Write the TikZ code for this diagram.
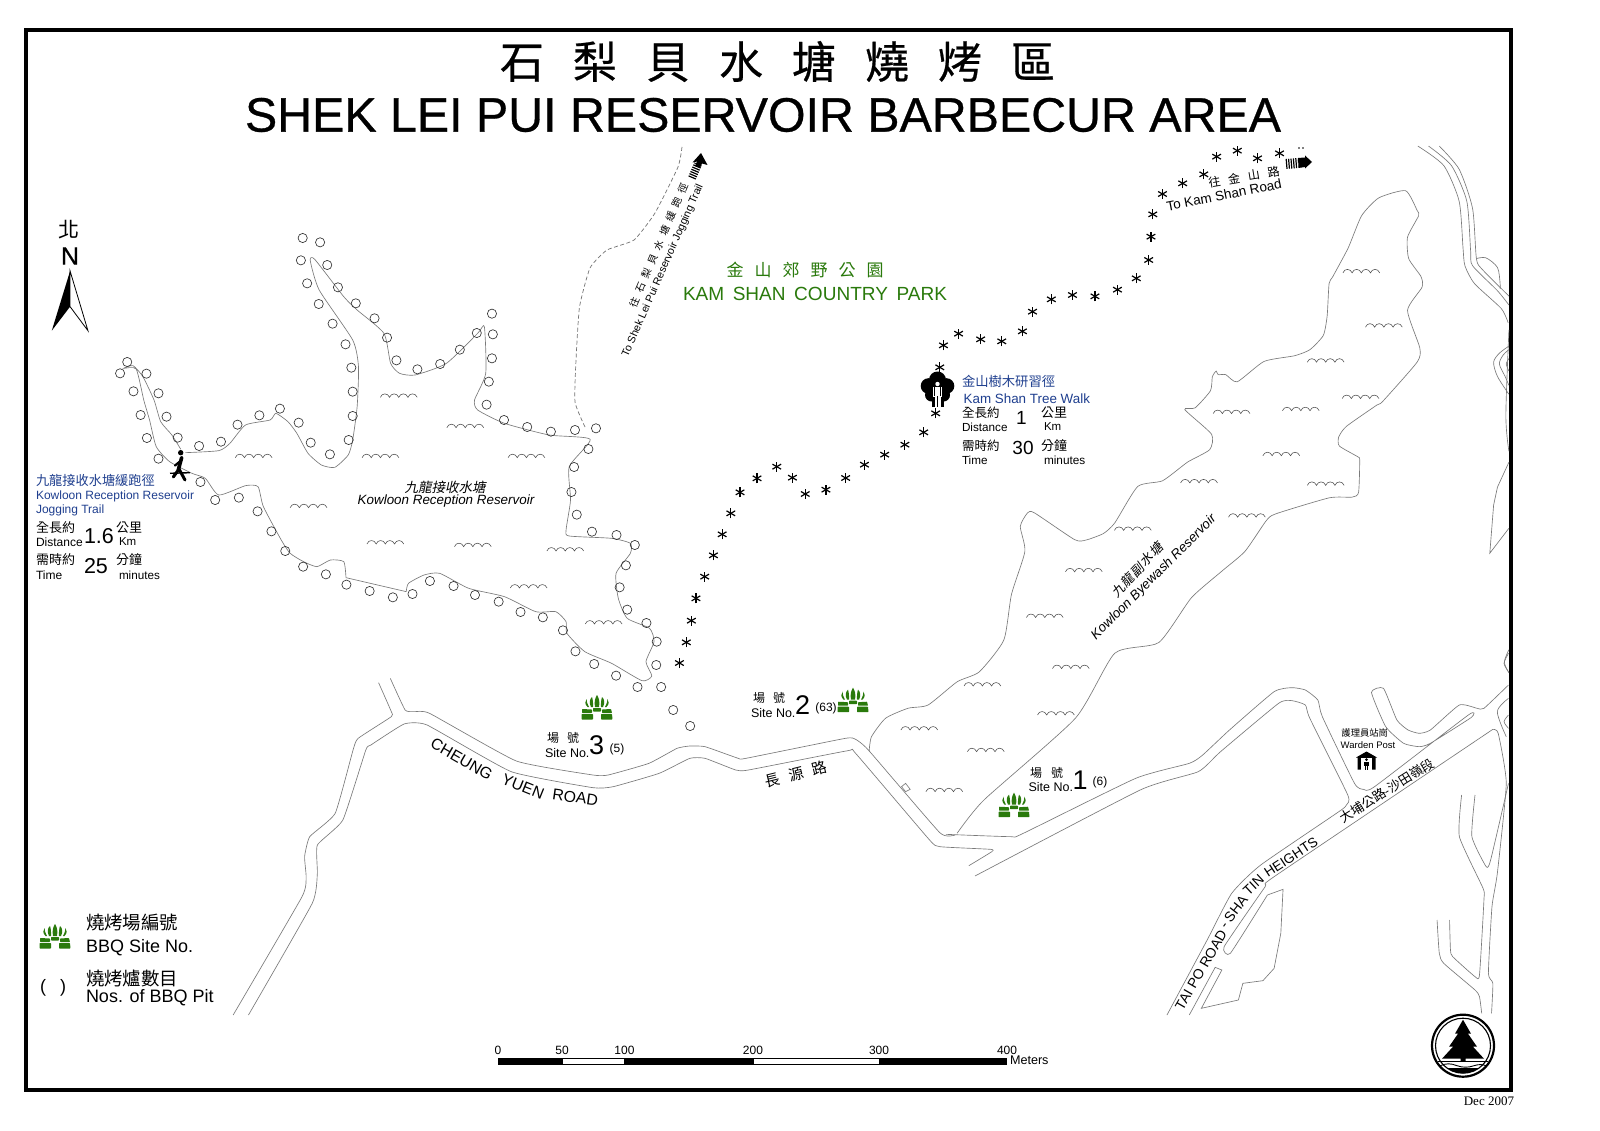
\documentclass[tikz,border=0pt]{standalone}
\usepackage{fontspec}
\usepackage{graphicx}
\setmainfont{Liberation Sans}
\newfontfamily\mainb[FakeBold=0.6]{Liberation Sans}
\newfontfamily\cjk{Noto Sans CJK TC}
\newfontfamily\cjkb[FakeBold=0.5]{Noto Sans CJK TC}
\newfontfamily\cjki[FakeSlant=0.2]{Noto Sans CJK TC}
\newfontfamily\serifdate{Liberation Serif}
\definecolor{parkgreen}{HTML}{2A7A0C}
\definecolor{trailblue}{HTML}{1F3F8F}
\definecolor{roadgray}{HTML}{7A7A7A}
\newcommand\fs[1]{\fontsize{#1}{#1}\selectfont}
\newcounter{lb}
\tikzset{
 lab/.style={inner sep=0pt,outer sep=0pt},
 rd/.style={draw=roadgray,line width=0.65pt},
 wave/.style={draw=black!70,line width=0.55pt},
 pit/.style={draw=black!80,line width=0.65pt},
 astk/.style={draw=black,line width=1.2pt},
 z1/.style={shift={(0,200)},x=.44643pt,y=-.33333pt},
 z2/.style={shift={(600,130)},x=.45918pt,y=-.33333pt},
 z3/.style={shift={(1000,130)},x=.38265pt,y=-.35714pt},
 z4/.style={shift={(200,640)},x=.5102pt,y=-.33333pt},
 z5/.style={shift={(850,640)},x=.44643pt,y=-.33333pt},
}
\newcommand\T[4][]{\stepcounter{lb}\node[lab,#1] (lb\thelb) at (#2,#3) {#4};}
\newcommand\wv[2]{\draw[wave] (#1,#2) .. controls +(1.5,-4.6) and +(-1.7,-4.6) .. ++(9.2,0) .. controls +(1.5,-4.6) and +(-1.7,-4.6) .. ++(9.2,0) .. controls +(1.5,-4.6) and +(-1.7,-4.6) .. ++(9.2,0) .. controls +(1.5,-4.6) and +(-1.7,-4.6) .. ++(9.2,0);}
\newcommand\AST[2]{\foreach \t in {90,30,-30}{\draw[astk] (#1,#2) ++(\t:5) -- ++(\t+180:10);}}
\newcommand\bbq[2]{\begin{scope}[shift={(#1,#2)}]
 \fill[parkgreen] (-9.5,-1) .. controls (-12.5,-4) and (-12,-7) .. (-10.5,-9) .. controls (-10.5,-6) and (-9.5,-4) .. (-8,-1) -- cycle;
 \fill[parkgreen] (9.5,-1) .. controls (12.5,-4) and (12,-7) .. (10.5,-9) .. controls (10.5,-6) and (9.5,-4) .. (8,-1) -- cycle;
 \fill[parkgreen] (-6,-1) .. controls (-8,-5) and (-7.5,-9) .. (-5,-11) .. controls (-4,-8) and (-3.8,-4) .. (-4,-1) -- cycle;
 \fill[parkgreen] (6,-1) .. controls (8,-5) and (7.5,-9) .. (5,-11) .. controls (4,-8) and (3.8,-4) .. (4,-1) -- cycle;
 \fill[parkgreen] (-2,-1) .. controls (-3,-6) and (-2,-10) .. (0,-13) .. controls (2,-10) and (3,-6) .. (2,-1) -- cycle;
 \fill[parkgreen,rounded corners=.6pt] (-15,1) -- (-5,1.5) -- (-5,5) -- (-15,5) -- cycle;
 \fill[parkgreen,rounded corners=.6pt] (-4,0) -- (4,0) -- (4,3.5) -- (-4,3.5) -- cycle;
 \fill[parkgreen,rounded corners=.6pt] (5,1.5) -- (14,1) -- (15,5) -- (5,5) -- cycle;
 \fill[parkgreen,rounded corners=.6pt] (-15.5,6) -- (-4,6) -- (-4,11.5) -- (-15.5,11.5) -- cycle;
 \fill[parkgreen,rounded corners=.6pt] (4,6) -- (15,6) -- (15.5,11.5) -- (4,11.5) -- cycle;
\end{scope}}
\begin{document}
\begin{tikzpicture}[x=1pt,y=-1pt]
\useasboundingbox (0,0) rectangle (1600,1131);
\fill[white] (0,0) rectangle (1600,1131);
% frame
\draw[line width=3.6pt,line join=miter] (26,30) rectangle (1511,1090);
% titles
\T{777.5}{61.5}{\cjkb\fs{44}石\hspace{29pt}梨\hspace{29pt}貝\hspace{29pt}水\hspace{29pt}塘\hspace{29pt}燒\hspace{29pt}烤\hspace{29pt}區}
\T{763}{115}{\resizebox{1036pt}{!}{\mainb\fs{49}SHEK LEI PUI RESERVOIR BARBECUR AREA}}
% ---- Kowloon Reception Reservoir
\begin{scope}[z1]
\draw[rd] plot[smooth,tension=.35] coordinates {(405,748) (385,705) (360,665) (345,600) (320,530) (298,497) (277,505) (305,507) (322,600) (335,660) (350,740) (380,785) (430,820) (460,835) (490,885) (550,857) (578,860) (590,920) (630,1020) (650,1060) (680,1085) (710,1100) (740,1080) (770,1085) (775,1133)};
\draw[rd] (775,1133) -- (910,1175);
\draw[rd] plot[smooth,tension=.35] coordinates {(910,1175) (915,1150) (950,1125) (985,1120) (1050,1165) (1130,1190) (1200,1235) (1245,1235) (1268,1265) (1270,1300) (1310,1355) (1370,1390) (1438,1442) (1460,1428) (1447,1385) (1465,1325) (1455,1285) (1405,1255) (1385,1195) (1380,1120) (1412,1060) (1412,1030) (1370,1015) (1275,1008) (1268,990) (1278,900) (1275,800) (1322,718) (1230,705) (1130,670) (1070,630) (1063,600) (1088,520) (1085,380) (1070,400) (1000,490) (930,525) (895,520) (875,490) (860,400) (800,330) (770,290) (705,178) (695,182) (715,270) (790,420) (803,500) (800,620) (790,720) (780,765) (750,802) (720,795) (690,760) (665,700) (645,665) (618,640) (605,660) (550,675) (515,730) (490,752) (415,758)};
\foreach \a/\b in {678/114,717/127,674/181,733/195,688/250,757/262,714/312,797/310,745/371,839/355,774/433,867/413,787/503,888/481,790/575,935/508,790/648,986/492,781/720,1030/449,739/763,1068/399,696/728,1102/341,669/668,1104/403,627/626,1102/475,581/646,1095/545,532/674,1090/614,495/725,1129/660,446/738,1181/681,1234/695,1288/690,1335/685,1318/747,1286/801,1280/876,1292/944,1326/995,1381/1005,1422/1035,1402/1096,1388/1162,1405/1229,1448/1269,1471/1325,1470/1395,1481/1461,1428/1461,1380/1427,1331/1392,1289/1354,1261/1291,1216/1252,1166/1236,1117/1205,1064/1185,1016/1158,963/1143,924/1182,880/1192,828/1173,776/1154,730/1123,679/1100,639/1053,608/994,577/934,535/893,482/900,449/846,355/776,398/713,329/714,373/650,315/645,355/580,299/574,328/521,269/520,285/486,1508/1530,1546/1578}
 {\draw[pit] (\a,\b) circle[x radius=10.3,y radius=13.8];}
\end{scope}
\foreach \a/\b in {852/592,1001/683,527/773,811/773,1138/773,650/923,822/1032,1018/1040,1225/1053,1143/1164,1311/1272}
 {\wv{\a/2.24}{200+\b/3}}
\foreach \a/\b in {896/400,955/552,803/650,894/752,738/786,557/794,687/912,803/995,472/988,597/1084,299/1121,171/1237,69/1365,137/1508}
 {\wv{1000+\a/2.613}{130+\b/2.8}}
\foreach \a/\b in {114/270,263/335,170/455}
 {\wv{850+\a/2.24}{640+\b/3}}
\wv{1037.5}{715}\wv{964}{686}
% dashed trail
\draw[draw=black!55,line width=.7pt,dash pattern=on 4pt off 2.5pt] plot[smooth,tension=.3] coordinates {(585,427) (575,402) (576,360) (579.5,307) (590,268) (607,250) (634,240) (655,213) (678,167) (682,147)};
% ---- Byewash
\begin{scope}[z3]
\draw[rd] plot[smooth,tension=.35] coordinates {(-342,1740) (-336,1699) (-299,1647) (-240,1619) (-188,1610) (-112,1545) (-54,1517) (10,1428) (30,1300) (65,1180) (53,1110) (72,1072) (90,1072) (195,1147) (225,1148) (270,1130) (300,1100) (360,998) (425,982) (490,930) (548,895) (553,852) (483,783) (510,778) (550,730) (555,690) (565,675) (570,685) (590,685) (620,705) (690,648) (770,632) (810,615) (845,575) (855,520) (860,430) (870,410) (910,330) (945,240) (990,190) (1060,170) (1090,225) (1094,240) (1065,300) (1068,360) (1100,410) (1103,440) (1065,505) (1097,610) (1090,650) (1000,760) (985,770) (905,830) (885,860) (887,885) (935,915) (940,925) (937,1015) (920,1028) (860,1030) (720,1075) (695,1095) (640,1180) (580,1235) (500,1310) (415,1435) (300,1465) (197,1647) (-42,1876) (-112,1969)};
% top-right roads
\draw[rd] plot[smooth,tension=.4] coordinates {(1092,45) (1160,100) (1200,200) (1210,330) (1215,380) (1240,430) (1310,500) (1328,540)};
\draw[rd] plot[smooth,tension=.4] coordinates {(1120,45) (1180,100) (1220,200) (1230,340) (1235,380) (1300,450) (1330,490)};
\draw[rd] plot[smooth,tension=.4] coordinates {(1148,45) (1200,110) (1235,220) (1245,360) (1260,390) (1330,465)};
\draw[rd] plot[smooth,tension=.5] coordinates {(1245,360) (1270,358) (1300,385) (1307,430) (1307,445)};
\draw[rd] plot[smooth,tension=.5] coordinates {(1330,605) (1305,625) (1290,650) (1300,690) (1330,740)};
\draw[rd] plot[smooth,tension=.5] coordinates {(1330,615) (1315,630) (1305,655) (1320,690) (1330,715)};
\draw[rd] plot[smooth,tension=.5] coordinates {(1330,640) (1323,655) (1330,675)};
\draw[rd] plot[smooth,tension=.5] coordinates {(1330,560) (1322,800) (1330,900)};
\draw[rd] (1330,930) -- (1300,1000) -- (1290,1050) -- (1280,1185) -- (1330,1115);
\draw[rd] plot[smooth,tension=.5] coordinates {(1330,1455) (1318,1490) (1330,1520)};
\end{scope}
% ---- Cheung Yuen Road
\begin{scope}[z4]
\draw[rd] plot[smooth,tension=.25] coordinates {(373,115) (402,210) (420,215) (450,220) (620,363) (770,405) (800,405) (880,370) (935,325) (960,318) (990,320) (1055,355) (1070,355) (1265,295) (1285,298) (1310,330) (1450,578) (1480,585)};
\draw[rd] plot[smooth,tension=.25] coordinates {(350,128) (375,215) (375,230) (310,295) (300,330) (265,520) (215,590) (205,650) (208,710) (200,770) (65,1125)};
\draw[rd] plot[smooth,tension=.25] coordinates {(95,1125) (220,790) (230,700) (230,615) (280,540) (325,330) (335,315) (400,252) (445,255) (610,395) (770,443) (810,440) (900,400) (960,355) (990,355) (1050,390) (1075,390) (1270,332) (1285,340) (1430,600) (1450,620) (1550,628) (1552,635) (1507,677)};
\draw[rd] (1375,440) -- (1383,430) -- (1392,448) -- (1383,455) -- cycle;
\end{scope}
% ---- SE roads
\begin{scope}[z5]
\draw[rd] plot[smooth,tension=.3] coordinates {(215,583) (360,590) (385,582) (640,415) (760,370) (790,345) (850,270) (950,155) (990,143) (1020,150) (1048,180) (1058,230) (1130,430) (1150,448) (1175,440) (1385,225) (1392,232) (1300,310) (1275,320) (1240,310) (1200,260) (1168,157) (1195,145) (1225,240) (1250,270) (1275,280) (1300,270) (1365,195) (1405,205) (1420,205) (1475,135)};
\draw[rd] plot[smooth,tension=.3] coordinates {(280,708) (650,450) (780,395) (830,335) (960,190) (990,182) (1020,195) (1030,235) (1115,465) (1112,495) (1095,515) (920,675) (855,760) (800,900) (710,1125)};
\draw[rd] plot[smooth,tension=.25] coordinates {(1440,268) (950,710) (930,740) (838,920) (852,940) (935,765)};
\draw[rd] (935,765) -- (970,748) -- (965,880) -- (950,985) -- (925,1022) -- (880,1030) -- (870,1080) -- (787,1105) -- (833,990) -- (818,982) -- (760,1125);
\draw[rd] plot[smooth,tension=.3] coordinates {(1440,268) (1452,280) (1470,430) (1450,700) (1438,800) (1430,1000) (1440,1030) (1437,1120)};
\draw[rd] plot[smooth,tension=.3] coordinates {(1415,1120) (1410,1070) (1400,1050) (1330,970) (1320,940) (1315,840)};
\draw[rd] plot[smooth,tension=.3] coordinates {(1343,840) (1345,930) (1350,950) (1400,1010) (1410,1005) (1420,780) (1418,745) (1365,590) (1370,465)};
\draw[rd] plot[smooth,tension=.3] coordinates {(1400,465) (1393,590) (1425,680) (1435,660) (1475,430)};
\draw[rd] plot[smooth,tension=.5] coordinates {(1475,175) (1450,215) (1470,290)};
\draw[rd] plot[smooth,tension=.5] coordinates {(1475,225) (1465,245) (1475,265)};
\draw[rd] plot[smooth,tension=.5] coordinates {(1475,40) (1465,70) (1475,95)};
\end{scope}
% asterisks
\foreach \a/\b in {173/1599,188/1537,199/1472,209/1405,228/1340,247/1276,266/1213,285/1150,305/1087,342/1045,385/1010,419/1043,447/1092,492/1079,535/1044,576/1004,620/974,664/944,705/907,731/850,740/712,748/646,781/611,829/628,875/634,920/604,942/545,983/508,1029/495,1078/499,1127/479,1168/445,1195/390,1200/320,1204/253,1225/192,1269/160,1315/133,1343/80,1388/62,1432/85,1480/70}
 {\AST{600+\a/2.178}{130+\b/3}}
% hatched arrows
\draw[line width=8pt,dash pattern=on 1.2pt off 1.2pt] (692,178) -- (698,164);
\fill (701,153) -- (707.5,165) -- (702,163.5) -- (700,168) -- (695,166) -- (697,161.5) -- (692.5,162.5) -- cycle;
\draw[line width=10pt,dash pattern=on 1.2pt off 1.2pt] (1286,164) -- (1298,163);
\fill (1312,162) -- (1305,155.5) -- (1305,157.5) -- (1298,158) -- (1298.5,168) -- (1305,167) -- (1305,168.5) -- cycle;
\fill (1299,148) circle[radius=.9] (1303,148) circle[radius=.9];
% north arrow
\begin{scope}[z1]
\fill[black] (157,213) -- (116,392) -- (157,320) -- cycle;
\draw[line width=.8pt,fill=white] (157,213) -- (197,392) -- (157,320) -- cycle;
\end{scope}
\T{69}{230}{\cjk\fs{21}北}
\T{70}{256}{\mainb\fs{25}N}
% runner
\fill (180.7,452.7) circle[radius=2.7];
\draw[line width=3.6pt,line cap=round] (181.7,457.5) -- (178.3,470);
\draw[line width=3pt,line cap=round] (178.3,470) -- (173.3,477);
\draw[line width=3pt,line cap=round] (179,469) -- (185,480);
\draw[line width=2.2pt,line cap=round] (181.7,460) -- (175,465.5);
\draw[line width=1.4pt] (170,473.3) -- (190,472.7);
% tree walk symbol
\begin{scope}[shift={(937.5,390)}]
\fill (0,-10) circle[radius=8.5] (-9,-4) circle[radius=7.8] (9,-4) circle[radius=7.8] (-6,5) circle[radius=6.5] (6,5) circle[radius=6.5] (0,2) circle[radius=8];
\fill (-6,4) rectangle (6,17);
\fill[white] (0,-6) circle[radius=2.2];
\fill[white] (-4.5,-3) rectangle (4.5,6.5);
\fill[white] (-3,6) rectangle (3,16.5);
\draw[line width=.6pt] (0,6) -- (0,16.5);
\draw[line width=.5pt] (-2.8,-3) -- (-2.8,6) (2.8,-3) -- (2.8,6);
\end{scope}
% warden post
\begin{scope}[shift={(1366.5,760)}]
\fill (0,-8.5) -- (-10.5,-2.5) -- (-9,-2.5) -- (-9,9.5) -- (9,9.5) -- (9,-2.5) -- (10.5,-2.5) -- cycle;
\fill[white] (-5.5,-2) -- (5.5,-2) -- (5.5,9.5) -- (-5.5,9.5) -- cycle;
\fill (0,-.4) circle[radius=1.5];
\fill (-2.4,1.5) rectangle (2.4,5.8);
\draw[line width=.9pt] (-1.1,5.8) -- (-1.1,9.5) (1.1,5.8) -- (1.1,9.5);
\end{scope}
% BBQ
\bbq{597}{708}\bbq{853}{700.7}\bbq{1014}{805.7}\bbq{55}{937}
% logo
\begin{scope}[shift={(1463,1045.7)}]
\draw[line width=2.2pt] (0,0) circle[radius=31];
\draw[line width=1.1pt] (0,0) circle[radius=27.5];
\fill (0,-26) -- (-8,-12) -- (-5,-12) -- (-14,1) -- (-10,1) -- (-21,13) -- (-2.5,13) -- (-2.5,16) -- (2.5,16) -- (2.5,13) -- (21,13) -- (10,1) -- (14,1) -- (5,-12) -- (8,-12) -- cycle;
\draw[line width=.9pt] (-25,15.7) -- (25,15.7);
\draw[line width=.9pt] (-23,20) .. controls (-17,17.5) and (-12,17.5) .. (-6,20) .. controls (0,22) and (5,22) .. (11,20) .. controls (15,18.5) and (20,18.5) .. (23,20);
\clip (0,0) circle[radius=27.5];
\fill (-28,22.5) rectangle (28,30);
\end{scope}
% scale bar
\fill (498,1057.5) rectangle (562,1065);
\draw[line width=.8pt,fill=white] (562,1058) rectangle (624.5,1064.5);
\fill (624.5,1057.5) rectangle (753,1065);
\draw[line width=.8pt,fill=white] (753,1058) rectangle (879.6,1064.5);
\fill (879.6,1057.5) rectangle (1007,1065);
\T{498}{1050}{\fs{12}0}
\T{562}{1050}{\fs{12}50}
\T{624.5}{1050}{\fs{12}100}
\T{753}{1050}{\fs{12}200}
\T{879}{1050}{\fs{12}300}
\T{1007}{1050}{\fs{12}400}
\T[anchor=west]{1010}{1060}{\fs{12.6}Meters}
% park
\T{805}{270}{\color{parkgreen}\cjk\fs{17}金\hspace{11pt}山\hspace{11pt}郊\hspace{11pt}野\hspace{11pt}公\hspace{11pt}園}
\T{815}{294}{\resizebox{264pt}{!}{\color{parkgreen}\fs{18}KAM\hspace{.45em}SHAN\hspace{.45em}COUNTRY\hspace{.45em}PARK}}
% jogging trail
\T[anchor=west]{36}{480}{\color{trailblue}\cjk\fs{13.2}九龍接收水塘緩跑徑}
\T[anchor=west]{36}{496}{\color{trailblue}\fs{12}Kowloon Reception Reservoir}
\T[anchor=west]{36}{510}{\color{trailblue}\fs{12}Jogging Trail}
\T[anchor=west]{36}{528}{\cjk\fs{13}全長約}
\T[anchor=west]{36}{542}{\fs{12}Distance}
\T[anchor=west]{84}{536}{\fs{21.5}1.6}
\T[anchor=west]{116}{528}{\cjk\fs{13}公里}
\T[anchor=west]{119}{542}{\fs{11.5}Km}
\T[anchor=west]{36}{560}{\cjk\fs{13}需時約}
\T[anchor=west]{36}{575}{\fs{12}Time}
\T[anchor=west]{84}{566}{\fs{21.5}25}
\T[anchor=west]{116}{560}{\cjk\fs{13}分鐘}
\T[anchor=west]{119}{575}{\fs{11.7}minutes}
\T{445}{487}{\cjki\fs{13.5}九龍接收水塘}
\T{446}{501}{\fs{13.4}\itshape Kowloon Reception Reservoir}
% to jogging trail
\T[rotate=66.3]{663}{270.5}{\fs{10.7}To Shek Lei Pui Reservoir Jogging Trail}
\T[rotate=67]{658.5}{245}{\cjk\fs{10}往\hspace{5.5pt}石\hspace{5.5pt}梨\hspace{5.5pt}貝\hspace{5.5pt}水\hspace{5.5pt}塘\hspace{5.5pt}緩\hspace{5.5pt}跑\hspace{5.5pt}徑}
% to kam shan
\T[rotate=11.2]{1224}{195}{\fs{13.5}To Kam Shan Road}
\T[rotate=9.5]{1244}{177}{\cjk\fs{12}往\hspace{8pt}金\hspace{8pt}山\hspace{8pt}路}
% tree walk
\T[anchor=west]{962}{381.7}{\color{trailblue}\cjk\fs{13.3}金山樹木研習徑}
\T[anchor=west]{963.6}{399}{\color{trailblue}\fs{13.4}Kam Shan Tree Walk}
\T[anchor=west]{962}{413}{\cjk\fs{12.5}全長約}
\T[anchor=west]{962}{427}{\fs{11.7}Distance}
\T{1021.5}{418}{\fs{19}1}
\T[anchor=west]{1041}{413}{\cjk\fs{13}公里}
\T[anchor=west]{1044}{427}{\fs{11.5}Km}
\T[anchor=west]{962}{445.7}{\cjk\fs{12.5}需時約}
\T[anchor=west]{962}{460}{\fs{11.7}Time}
\T{1023}{448}{\fs{19}30}
\T[anchor=west]{1041}{445.7}{\cjk\fs{13}分鐘}
\T[anchor=west]{1044}{460}{\fs{11.8}minutes}
% byewash
\T[rotate=47]{1137}{570}{\cjki\fs{13}九\hspace{1pt}龍\hspace{1pt}副\hspace{1pt}水\hspace{1pt}塘}
\T[rotate=45]{1154}{577.5}{\fs{13.4}\itshape Kowloon Byewash Reservoir}
% roads
\T[rotate=-30]{461.7}{759.3}{\fs{15.8}CHEUNG}
\T[rotate=-22]{523}{786.7}{\fs{15.8}YUEN}
\T[rotate=-8]{575.3}{797.3}{\fs{15.8}ROAD}
\T[rotate=14]{796}{774}{\cjk\fs{15}長\hspace{9pt}源\hspace{9pt}路}
\T[rotate=60]{1201}{970}{\fs{14}TAI PO ROAD}
\T[rotate=55]{1226}{926}{\fs{14}-}
\T[rotate=52]{1236}{909}{\fs{14}SHA}
\T[rotate=43]{1253.5}{885}{\fs{14}TIN}
\T[rotate=33]{1291}{857}{\fs{13.6}HEIGHTS}
\T[rotate=32]{1387}{790.7}{\cjk\fs{13}大埔公路-沙田嶺段}
% sites
\T{553}{738}{\cjk\fs{12}場}\T{573}{738}{\cjk\fs{12}號}
\T[anchor=west]{545}{752.7}{\fs{12.5}Site No.}
\T{596.5}{745}{\fs{27}3}
\T{617}{749}{\fs{12}(5)}
\T{759}{698}{\cjk\fs{12}場}\T{779}{698}{\cjk\fs{12}號}
\T[anchor=west]{751}{712.7}{\fs{12.5}Site No.}
\T{802.5}{705}{\fs{27}2}
\T{826}{708}{\fs{12}(63)}
\T{1036}{773}{\cjk\fs{12}場}\T{1057}{773}{\cjk\fs{12}號}
\T[anchor=west]{1028.6}{786.7}{\fs{12.5}Site No.}
\T{1080}{780}{\fs{27}1}
\T{1100}{782.7}{\fs{12}(6)}
% warden
\T{1364.7}{732.7}{\cjk\fs{9.3}護理員站崗}
\T{1368}{745}{\fs{9.5}Warden Post}
% legend
\T[anchor=west]{86}{923}{\cjk\fs{18.4}燒烤場編號}
\T[anchor=west]{86}{947.7}{\fs{18}BBQ Site No.}
\T{43}{988}{\fs{18}(}\T{63}{988}{\fs{18})}
\T[anchor=west]{86}{979}{\cjk\fs{18.4}燒烤爐數目}
\T[anchor=west]{86}{998}{\fs{18}Nos. of BBQ Pit}
\T[anchor=east]{1514}{1101}{\serifdate\fs{13}Dec 2007}
\end{tikzpicture}
\end{document}
